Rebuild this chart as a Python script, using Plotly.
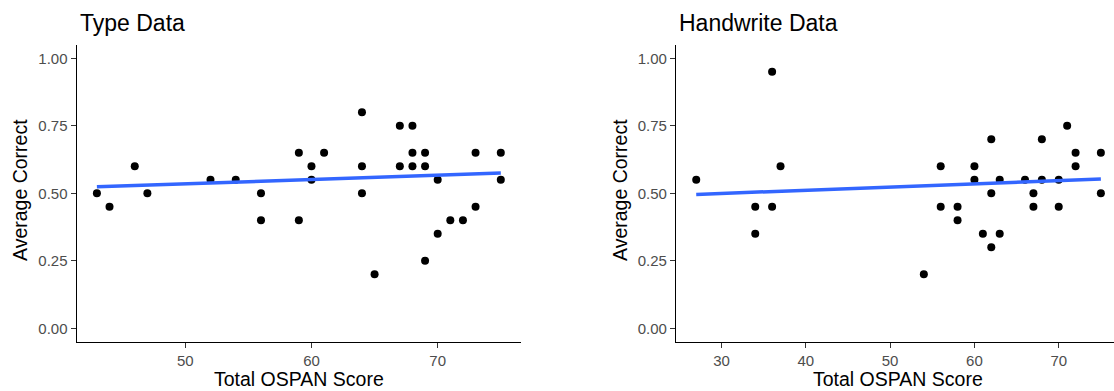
import plotly.graph_objects as go

# ---- data ----
type_ospan = [43, 44, 46, 47, 52, 54, 56, 56, 59, 59, 60, 60, 61, 64, 64, 64, 65,
              67, 67, 68, 68, 68, 69, 69, 69, 70, 70, 71, 72, 73, 73, 75, 75]
type_correct = [0.50, 0.45, 0.60, 0.50, 0.55, 0.55, 0.50, 0.40, 0.65, 0.40, 0.60, 0.55, 0.65,
                0.80, 0.60, 0.50, 0.20, 0.75, 0.60, 0.75, 0.65, 0.60, 0.65, 0.60, 0.25,
                0.55, 0.35, 0.40, 0.40, 0.65, 0.45, 0.65, 0.55]

hand_ospan = [27, 34, 34, 36, 36, 37, 54, 56, 56, 58, 58, 60, 60, 61, 62, 62, 62, 63, 63,
              66, 67, 67, 68, 68, 70, 70, 71, 72, 72, 75, 75]
hand_correct = [0.55, 0.45, 0.35, 0.95, 0.45, 0.60, 0.20, 0.60, 0.45, 0.45, 0.40, 0.60, 0.55,
                0.35, 0.70, 0.50, 0.30, 0.55, 0.35, 0.55, 0.50, 0.45, 0.70, 0.55, 0.55,
                0.45, 0.75, 0.65, 0.60, 0.65, 0.50]

# linear-fit lines (endpoints)
type_fit_x = [43, 75]
type_fit_y = [0.524, 0.575]
hand_fit_x = [27, 75]
hand_fit_y = [0.496, 0.553]

y_ticks = [0.0, 0.25, 0.5, 0.75, 1.0]
y_ticktext = ["0.00", "0.25", "0.50", "0.75", "1.00"]
type_xticks = [50, 60, 70]
hand_xticks = [30, 40, 50, 60, 70]

titles = ["Type Data", "Handwrite Data"]
x_title = "Total OSPAN Score"
y_title = "Average Correct"

W, H = 1114, 391
FONT = "Liberation Sans, Arial, Helvetica, sans-serif"

fig = go.Figure()

for xs, ys, fx, fy, xa, ya in [(type_ospan, type_correct, type_fit_x, type_fit_y, "x", "y"),
                               (hand_ospan, hand_correct, hand_fit_x, hand_fit_y, "x2", "y2")]:
    fig.add_trace(go.Scatter(x=xs, y=ys, mode="markers",
                             marker=dict(color="black", size=8),
                             xaxis=xa, yaxis=ya, showlegend=False))
    fig.add_trace(go.Scatter(x=fx, y=fy, mode="lines",
                             line=dict(color="#3366FF", width=3.5),
                             xaxis=xa, yaxis=ya, showlegend=False, hoverinfo="skip"))

# panel pixel geometry
L1, R1 = 76.7, 521.0
L2 = 676.0
px_per_unit2 = 8.43
TOP, BOT = 44.8, 341.8
ydom = [(H - BOT) / H, (H - TOP) / H]

axis_common = dict(showline=True, linecolor="black", linewidth=1.3,
                   ticks="outside", ticklen=5, tickwidth=1.2, tickcolor="#333333",
                   tickfont=dict(size=15, color="#4D4D4D", family=FONT),
                   showgrid=False, zeroline=False, fixedrange=True)

fig.update_layout(
    width=W, height=H,
    margin=dict(l=0, r=0, t=0, b=0),
    paper_bgcolor="white", plot_bgcolor="white",
    font=dict(family=FONT),
    xaxis=dict(domain=[L1 / W, R1 / W], range=[41.4, 76.6], anchor="y",
               tickvals=type_xticks, **axis_common),
    yaxis=dict(domain=ydom, range=[-0.05, 1.05], anchor="x",
               tickvals=y_ticks, ticktext=y_ticktext, **axis_common),
    xaxis2=dict(domain=[L2 / W, 1.0], range=[24.6, 24.6 + (W - L2) / px_per_unit2],
                anchor="y2", tickvals=hand_xticks, **axis_common),
    yaxis2=dict(domain=ydom, range=[-0.05, 1.05], anchor="x2",
                tickvals=y_ticks, ticktext=y_ticktext, **axis_common),
)

ann = []
for t, left in zip(titles, [L1, L2]):
    ann.append(dict(text=t, x=(left + 1) / W, y=1 - 8 / H, xref="paper", yref="paper",
                    xanchor="left", yanchor="top", showarrow=False,
                    font=dict(size=23, color="black", family=FONT)))
for cx in [(L1 + R1) / 2, 898.3]:
    ann.append(dict(text=x_title, x=cx / W, y=-1 / H, xref="paper", yref="paper",
                    xanchor="center", yanchor="bottom", showarrow=False,
                    font=dict(size=19.5, color="black", family=FONT)))
for cx in [20, 620]:
    ann.append(dict(text=y_title, x=cx / W, y=(H - 190) / H, xref="paper", yref="paper",
                    xanchor="center", yanchor="middle", textangle=-90, showarrow=False,
                    font=dict(size=19.5, color="black", family=FONT)))
fig.update_layout(annotations=ann)

fig.write_html("out.html")
